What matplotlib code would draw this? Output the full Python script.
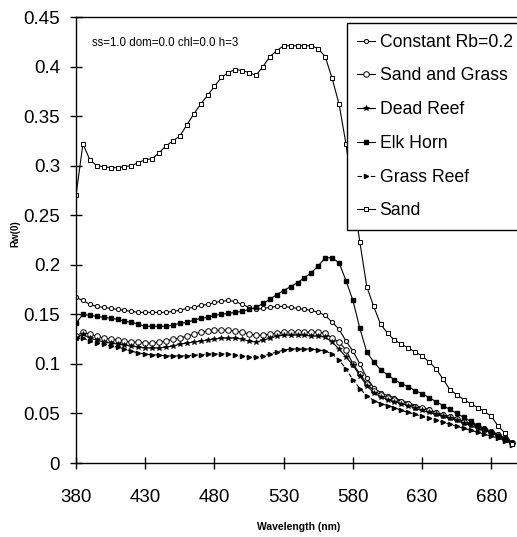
import matplotlib
matplotlib.use("Agg")
import matplotlib.pyplot as plt

plt.rcParams['font.family'] = ['Liberation Sans', 'DejaVu Sans']

wavelength = list(range(380, 700, 5))

sand = [0.270, 0.322, 0.306, 0.300, 0.299, 0.298, 0.298, 0.299, 0.300, 0.303,
        0.306, 0.307, 0.313, 0.320, 0.325, 0.330, 0.341, 0.352, 0.362, 0.371,
        0.380, 0.389, 0.394, 0.397, 0.396, 0.394, 0.391, 0.400, 0.410, 0.416,
        0.421, 0.421, 0.421, 0.421, 0.421, 0.418, 0.410, 0.388, 0.362, 0.322,
        0.270, 0.223, 0.178, 0.158, 0.140, 0.131, 0.124, 0.120, 0.116, 0.112,
        0.108, 0.102, 0.095, 0.085, 0.074, 0.069, 0.064, 0.060, 0.056, 0.052,
        0.047, 0.037, 0.030, 0.019]

constant_rb = [0.167, 0.164, 0.160, 0.158, 0.157, 0.156, 0.155, 0.154, 0.153, 0.152,
               0.152, 0.152, 0.152, 0.152, 0.153, 0.154, 0.156, 0.157, 0.159, 0.160,
               0.162, 0.163, 0.164, 0.163, 0.160, 0.157, 0.155, 0.156, 0.157, 0.158,
               0.158, 0.157, 0.156, 0.155, 0.154, 0.152, 0.149, 0.142, 0.135, 0.123,
               0.113, 0.100, 0.086, 0.076, 0.071, 0.068, 0.066, 0.063, 0.061, 0.058,
               0.056, 0.054, 0.051, 0.049, 0.047, 0.045, 0.042, 0.040, 0.037, 0.035,
               0.032, 0.029, 0.025, 0.021]

elk_horn = [0.141, 0.150, 0.149, 0.148, 0.147, 0.146, 0.145, 0.143, 0.142, 0.140,
            0.138, 0.138, 0.138, 0.138, 0.139, 0.141, 0.142, 0.144, 0.146, 0.147,
            0.149, 0.150, 0.151, 0.152, 0.153, 0.155, 0.157, 0.161, 0.165, 0.170,
            0.174, 0.178, 0.182, 0.187, 0.192, 0.199, 0.207, 0.207, 0.202, 0.184,
            0.164, 0.136, 0.112, 0.102, 0.094, 0.089, 0.084, 0.080, 0.077, 0.073,
            0.070, 0.066, 0.062, 0.058, 0.054, 0.050, 0.046, 0.042, 0.038, 0.034,
            0.031, 0.027, 0.024, 0.020]

sand_grass = [0.128, 0.132, 0.130, 0.128, 0.126, 0.125, 0.124, 0.123, 0.122, 0.122,
              0.121, 0.121, 0.122, 0.123, 0.125, 0.126, 0.128, 0.130, 0.132, 0.133,
              0.134, 0.134, 0.134, 0.133, 0.132, 0.130, 0.129, 0.129, 0.130, 0.131,
              0.132, 0.132, 0.132, 0.132, 0.132, 0.132, 0.131, 0.126, 0.122, 0.114,
              0.100, 0.090, 0.080, 0.073, 0.069, 0.066, 0.064, 0.062, 0.060, 0.057,
              0.055, 0.053, 0.050, 0.048, 0.046, 0.044, 0.041, 0.039, 0.036, 0.034,
              0.031, 0.028, 0.024, 0.020]

dead_reef = [0.126, 0.130, 0.126, 0.124, 0.122, 0.121, 0.120, 0.119, 0.118, 0.117,
             0.116, 0.116, 0.116, 0.117, 0.118, 0.120, 0.121, 0.122, 0.123, 0.124,
             0.125, 0.126, 0.126, 0.126, 0.125, 0.123, 0.122, 0.124, 0.126, 0.128,
             0.129, 0.129, 0.129, 0.129, 0.128, 0.128, 0.127, 0.122, 0.115, 0.107,
             0.099, 0.088, 0.078, 0.071, 0.067, 0.064, 0.062, 0.060, 0.058, 0.055,
             0.053, 0.051, 0.049, 0.047, 0.045, 0.043, 0.040, 0.038, 0.035, 0.033,
             0.030, 0.027, 0.023, 0.019]

grass_reef = [0.125, 0.126, 0.123, 0.121, 0.120, 0.118, 0.117, 0.115, 0.113, 0.111,
              0.110, 0.109, 0.109, 0.108, 0.108, 0.108, 0.108, 0.109, 0.109, 0.110,
              0.110, 0.110, 0.110, 0.109, 0.108, 0.107, 0.107, 0.108, 0.110, 0.112,
              0.114, 0.115, 0.115, 0.115, 0.115, 0.114, 0.113, 0.110, 0.104, 0.095,
              0.084, 0.075, 0.068, 0.063, 0.060, 0.058, 0.056, 0.053, 0.051, 0.049,
              0.047, 0.045, 0.043, 0.041, 0.039, 0.037, 0.035, 0.033, 0.031, 0.029,
              0.027, 0.025, 0.022, 0.018]

x_ticks = [380, 430, 480, 530, 580, 630, 680]
y_ticks = [0, 0.05, 0.1, 0.15, 0.2, 0.25, 0.3, 0.35, 0.4, 0.45]
y_labels = ["0", "0.05", "0.1", "0.15", "0.2", "0.25", "0.3", "0.35", "0.4", "0.45"]

fig = plt.figure(figsize=(5.17, 5.37), dpi=100)
ax = fig.add_axes([0.147, 0.1378, 0.857, 0.8305])

lw = 0.8
ax.plot(wavelength, constant_rb, color="black", lw=lw, marker="o", ms=3.0,
        mfc="white", mew=0.7, label="Constant Rb=0.2")
ax.plot(wavelength, sand_grass, color="black", lw=lw, marker="o", ms=4.0,
        mfc="white", mew=0.7, label="Sand and Grass")
ax.plot(wavelength, dead_reef, color="black", lw=lw, marker="*", ms=4,
        mew=0.5, label="Dead Reef")
ax.plot(wavelength, elk_horn, color="black", lw=lw, marker="s", ms=2.3,
        label="Elk Horn")
ax.plot(wavelength, grass_reef, color="black", lw=lw, ls=(0, (4, 2)), marker=">",
        ms=3, label="Grass Reef")
ax.plot(wavelength, sand, color="black", lw=lw, marker="s", ms=3.4,
        mfc="white", mew=0.7, label="Sand")

ax.set_xlim(380, 700)
ax.set_ylim(0, 0.45)
ax.set_xticks(x_ticks)
ax.set_yticks(y_ticks)
ax.set_yticklabels(y_labels)
ax.tick_params(direction="inout", length=9, width=1)
ax.tick_params(axis="x", pad=14, labelsize=13.5)
ax.tick_params(axis="y", pad=7, labelsize=13.5)
ax.spines["right"].set_visible(False)
for s in ["left", "bottom", "top"]:
    ax.spines[s].set_linewidth(1)

ax.text(0.178, 0.920, "ss=1.0 dom=0.0 chl=0.0 h=3", transform=fig.transFigure,
        fontsize=8.3, va="center", ha="left")

fig.text(0.577, 0.019, "Wavelength (nm)", fontsize=7.5, fontweight="bold",
         ha="center", va="center")
fig.text(0.029, 0.565, "Rw(0)", fontsize=7, fontweight="bold",
         rotation=90, ha="center", va="center")

leg = ax.legend(loc="upper left", bbox_to_anchor=(0.671, 0.957),
                bbox_transform=fig.transFigure, fontsize=12.7, frameon=True,
                fancybox=False, framealpha=1, handlelength=1.0, handletextpad=0.25,
                labelspacing=0.95, borderpad=0.6, borderaxespad=0)
leg.get_frame().set_edgecolor("black")
leg.get_frame().set_linewidth(1)

fig.savefig("out.png", dpi=100)
